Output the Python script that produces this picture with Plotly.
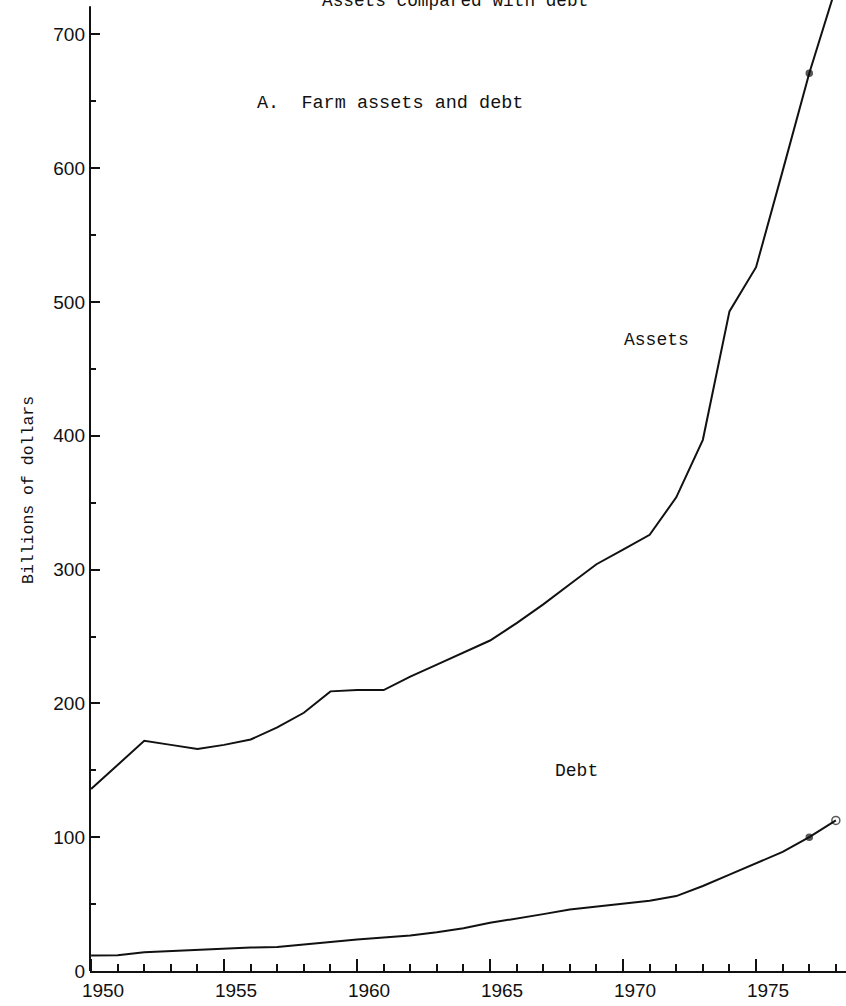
import plotly.graph_objects as go

years = list(range(1950, 1979))
assets = [136, 154, 172, 169, 166, 169, 173, 182, 193, 209, 210, 210, 220, 229, 238,
          247, 260, 274, 289, 304, 315, 326, 354, 397, 493, 526, 598, 671, 735]
debt = [11.6, 11.8, 14, 15, 16, 16.5, 17.5, 18, 20, 22, 23.5, 25, 26.5, 29, 32,
        36, 39, 42.5, 46, 48, 50, 52.5, 56, 63.5, 72, 80.5, 89, 100, 112.5]

x_tick_years = [1950, 1955, 1960, 1965, 1970, 1975]
x_tick_labels = ["1950", "1955", "1960", "1965", "1970", "1975"]
y_tick_vals = [0, 100, 200, 300, 400, 500, 600, 700]
y_tick_labels = ["0", "100", "200", "300", "400", "500", "600", "700"]

title_text = "Assets compared with debt"
panel_text = "A.  Farm assets and debt"
y_title = "Billions of dollars"

INK = "#111111"
MONO = "Liberation Mono, Courier New, monospace"
SANS = "Liberation Sans, Arial, sans-serif"

n = len(years)
sym = ["circle"] * (n - 2) + ["circle", "circle-open"]
sizes = [0] * (n - 2) + [6, 8]

fig = go.Figure()
for vals in (assets, debt):
    fig.add_trace(go.Scatter(
        x=years, y=vals, mode="lines+markers",
        line=dict(color=INK, width=2),
        marker=dict(symbol=sym, size=sizes, color=INK,
                    line=dict(color=INK, width=1.5)),
        showlegend=False, hoverinfo="skip"))

x0 = 1949.96
fig.update_layout(
    width=846, height=1006,
    margin=dict(l=90, r=0, t=0, b=35),
    paper_bgcolor="white", plot_bgcolor="white",
    font=dict(family=SANS, color=INK),
    xaxis=dict(
        range=[x0, x0 + 756 / 26.6],
        tickvals=x_tick_years, ticktext=x_tick_labels,
        ticks="inside", ticklen=12, tickwidth=2, tickcolor=INK,
        minor=dict(dtick=1, tick0=1950, ticks="inside", ticklen=7,
                   tickwidth=1.5, tickcolor=INK),
        showline=True, linecolor=INK, linewidth=2,
        showgrid=False, zeroline=False,
        tickfont=dict(family=SANS, size=19, color=INK),
        ticklabelshift=12, ticklabelstandoff=1,
    ),
    yaxis=dict(
        range=[0, 971 / 1.338],
        tickvals=y_tick_vals, ticktext=y_tick_labels,
        ticks="inside", ticklen=10, tickwidth=2, tickcolor=INK,
        minor=dict(dtick=50, tick0=0, ticks="inside", ticklen=6,
                   tickwidth=1.5, tickcolor=INK),
        showline=False, showgrid=False, zeroline=False,
        tickfont=dict(family=SANS, size=19, color=INK),
        ticklabelstandoff=4,
    ),
    shapes=[dict(type="line", xref="paper", yref="y", x0=0, x1=0,
                 y0=0, y1=721, line=dict(color=INK, width=2))],
)

fig.add_annotation(text=title_text, xref="paper", yref="paper",
                   x=(455 - 90) / 756, y=1.0, yshift=-1, xanchor="center",
                   yanchor="middle", showarrow=False,
                   font=dict(family=MONO, size=17.75, color=INK))
fig.add_annotation(text=panel_text.replace(" ", "&nbsp;"), xref="paper", yref="y",
                   x=(255 - 90) / 756, y=(971 - 103) / 1.338, xanchor="left",
                   yanchor="middle", showarrow=False,
                   font=dict(family=MONO, size=18.5, color=INK))
fig.add_annotation(text="Assets", xref="paper", yref="y",
                   x=(621.7 - 90) / 756, y=(971 - 340) / 1.338, xanchor="left",
                   yanchor="middle", showarrow=False,
                   font=dict(family=MONO, size=18, color=INK))
fig.add_annotation(text="Debt", xref="paper", yref="y",
                   x=(553 - 90) / 756, y=(971 - 771) / 1.338, xanchor="left",
                   yanchor="middle", showarrow=False,
                   font=dict(family=MONO, size=18, color=INK))
fig.add_annotation(text=y_title, xref="paper", yref="y",
                   x=(28 - 90) / 756, y=(971 - 490) / 1.338, xanchor="center",
                   yanchor="middle", textangle=-90, showarrow=False,
                   font=dict(family=MONO, size=16.5, color=INK))

fig.write_html(
    "out.html",
    config={"displayModeBar": False},
    post_script="document.body.style.margin='0';document.body.style.overflow='hidden';",
)
